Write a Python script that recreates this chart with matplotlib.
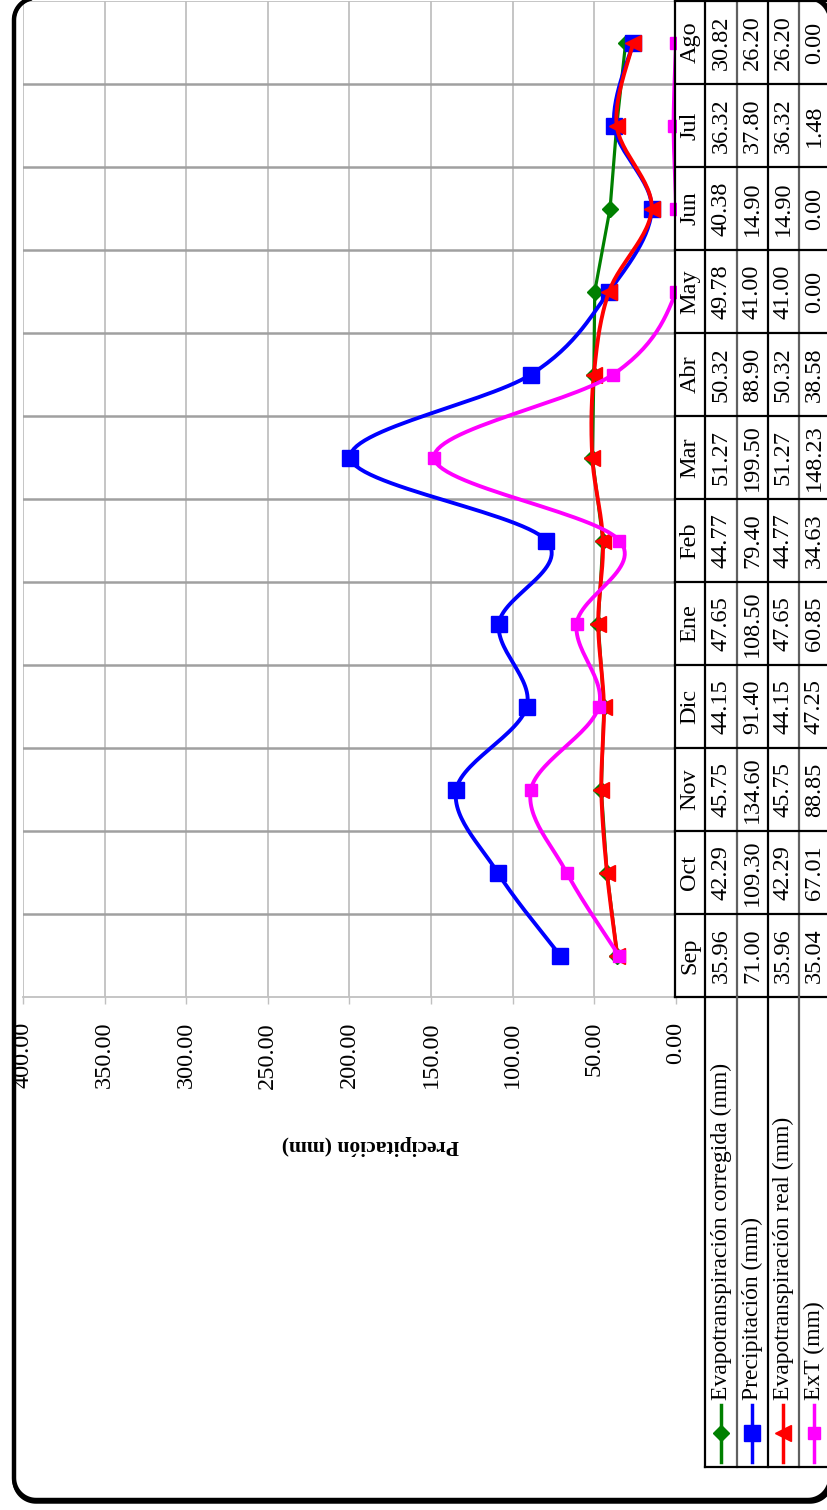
import numpy as np
import matplotlib
matplotlib.use('Agg')
import matplotlib.pyplot as plt
from matplotlib.lines import Line2D
from matplotlib.transforms import IdentityTransform

# Data (monthly water balance)
months = ['Sep', 'Oct', 'Nov', 'Dic', 'Ene', 'Feb', 'Mar', 'Abr', 'May', 'Jun', 'Jul', 'Ago']
evap_corr = [35.96, 42.29, 45.75, 44.15, 47.65, 44.77, 51.27, 50.32, 49.78, 40.38, 36.32, 30.82]
precip = [71.00, 109.30, 134.60, 91.40, 108.50, 79.40, 199.50, 88.90, 41.00, 14.90, 37.80, 26.20]
evap_real = [35.96, 42.29, 45.75, 44.15, 47.65, 44.77, 51.27, 50.32, 41.00, 14.90, 36.32, 26.20]
ext = [35.04, 67.01, 88.85, 47.25, 60.85, 34.63, 148.23, 38.58, 0.00, 0.00, 1.48, 0.00]
value_ticks = [0, 50, 100, 150, 200, 250, 300, 350, 400]

W, H = 828, 1510
plt.rcParams['font.family'] = ['Liberation Serif', 'DejaVu Serif']

fig = plt.figure(figsize=(W / 100, H / 100), dpi=100)


def fx(px):
    return px / W


def fy(py):
    return 1 - py / H


# plot area in pixels (chart is drawn turned on its side)
left, right, top, bottom = 23, 676, 1, 997
ax = fig.add_axes([fx(left), fy(bottom), fx(right) - fx(left), fy(top) - fy(bottom)])
ax.set_xlim(400, 0)
ax.set_ylim(0, 12)

px_per_mm = (right - left) / 400.0
px_per_row = (bottom - top) / 12.0


def smooth(vals, n=30):
    # Catmull-Rom style bezier through the points, done in pixel space
    pts = np.array([[v * px_per_mm, (i + 0.5) * px_per_row] for i, v in enumerate(vals)])
    ext_pts = np.vstack([pts[0], pts, pts[-1]])
    out = []
    for i in range(len(pts) - 1):
        p0, p1, p2, p3 = ext_pts[i], ext_pts[i + 1], ext_pts[i + 2], ext_pts[i + 3]
        c1 = p1 + (p2 - p0) / 6.0
        c2 = p2 - (p3 - p1) / 6.0
        t = np.linspace(0, 1, n)[:, None]
        seg = (1 - t) ** 3 * p1 + 3 * (1 - t) ** 2 * t * c1 + 3 * (1 - t) * t ** 2 * c2 + t ** 3 * p2
        out.append(seg if i == 0 else seg[1:])
    out = np.vstack(out)
    return out[:, 0] / px_per_mm, out[:, 1] / px_per_row


rows = np.arange(len(months)) + 0.5

# gridlines
for v in value_ticks:
    ax.axvline(v, color='#c0c0c0', lw=1.3, zorder=0)
for r in range(1, 12):
    ax.axhline(r, color='#a0a0a0', lw=1.8, zorder=0)
ax.axhline(12, color='#c0c0c0', lw=1.3, zorder=0)

for s in ax.spines.values():
    s.set_visible(False)
ax.spines['bottom'].set_visible(True)
ax.spines['bottom'].set_color('#c0c0c0')
ax.spines['bottom'].set_linewidth(1.3)

ax.set_xticks(value_ticks)
ax.set_xticklabels(['%.2f' % v for v in value_ticks])
ax.tick_params(axis='x', labelrotation=90, length=5, width=1, color='#c0c0c0',
               pad=13, labelsize=17.5)
ax.set_yticks([])

# series
ax.plot(evap_corr, rows, color='#008000', lw=2.3, marker='D', ms=8, zorder=3)
sx, sy = smooth(precip)
ax.plot(sx, sy, color='#0000ff', lw=2.8, zorder=4)
ax.plot(precip, rows, ls='none', marker='s', ms=11.5, color='#0000ff', zorder=4)
sx, sy = smooth(evap_real)
ax.plot(sx, sy, color='#ff0000', lw=2.8, zorder=5)
ax.plot(evap_real, rows, ls='none', marker='<', ms=11, color='#ff0000', zorder=5)
sx, sy = smooth(ext)
ax.plot(sx, sy, color='#ff00ff', lw=2.8, zorder=6)
ax.plot(ext, rows, ls='none', marker='s', ms=8.5, color='#ff00ff', zorder=6)

# axis title
fig.text(fx(370), fy(1145), 'Precipitación (mm)', rotation=180, ha='center', va='center',
         fontsize=15.5, fontweight='bold')

# data table on the right
col_x = [675, 705, 737, 768, 799, 830]
col_dark = [True, True, False, True, False]
row_y = [top + i * px_per_row for i in range(13)]
series = [evap_corr, precip, evap_real, ext]

for i, x in enumerate(col_x[:-1]):
    fig.add_artist(Line2D([fx(x), fx(x)], [fy(top), fy(bottom)],
                          color='black' if col_dark[i] else '#606060', lw=1.6))
for y in row_y:
    fig.add_artist(Line2D([fx(675), fx(830)], [fy(y), fy(y)], color='black', lw=1.6))

for j, m in enumerate(months):
    yc = bottom - (j + 0.5) * px_per_row
    fig.text(fx((col_x[0] + col_x[1]) / 2), fy(yc), m, rotation=90,
             ha='center', va='center', fontsize=17.5)
    for k, ser in enumerate(series):
        xc = (col_x[k + 1] + col_x[k + 2]) / 2
        fig.text(fx(xc), fy(yc), '%.2f' % ser[j], rotation=90,
                 ha='center', va='center', fontsize=17.5)

# legend cells below the table
leg_bottom = 1467
for i, x in enumerate(col_x[1:-1]):
    fig.add_artist(Line2D([fx(x), fx(x)], [fy(bottom), fy(leg_bottom)],
                          color='black' if col_dark[i + 1] else '#606060', lw=1.6))
fig.add_artist(Line2D([fx(705), fx(830)], [fy(leg_bottom), fy(leg_bottom)], color='black', lw=1.6))

leg_names = ['Evapotranspiración corregida (mm)', 'Precipitación (mm)',
             'Evapotranspiración real (mm)', 'ExT (mm)']
leg_colors = ['#008000', '#0000ff', '#ff0000', '#ff00ff']
leg_markers = ['D', 's', '<', 's']
leg_ms = [8, 11, 11, 8.5]
for k in range(4):
    xc = (col_x[k + 1] + col_x[k + 2]) / 2
    fig.add_artist(Line2D([fx(xc), fx(xc)], [fy(1405), fy(1462)], color=leg_colors[k], lw=2.5))
    fig.add_artist(Line2D([fx(xc)], [fy(1433)], color=leg_colors[k], marker=leg_markers[k],
                          ms=leg_ms[k], ls='none'))
    fig.text(fx(xc), fy(1400), leg_names[k], rotation=90, ha='center', va='bottom', fontsize=17)


# rounded outer frame as a polyline in pixel coords (y measured from the top)
def rounded_rect(x0, x1, y0, y1, r, n=20):
    pts = []
    corners = [(x1 - r, y0 + r, -90, 0), (x1 - r, y1 - r, 0, 90),
               (x0 + r, y1 - r, 90, 180), (x0 + r, y0 + r, 180, 270)]
    for cx, cy, a0, a1 in corners:
        a = np.radians(np.linspace(a0, a1, n))
        pts.extend(zip(cx + r * np.cos(a), cy + r * np.sin(a)))
    pts.append(pts[0])
    pts = np.array(pts)
    return pts[:, 0], H - pts[:, 1]


fxs, fys = rounded_rect(14, 830, -2, 1500, 22)
fig.add_artist(Line2D(fxs, fys, transform=IdentityTransform(), color='black', lw=3.2,
                      solid_joinstyle='round', zorder=10))
# thicker shadow along the bottom and right
fxs, fys = rounded_rect(14, 832, -2, 1502, 22)
fig.add_artist(Line2D(fxs, fys, transform=IdentityTransform(), color='black', lw=2.5,
                      solid_joinstyle='round', zorder=10))

fig.savefig('out.png', dpi=100)
